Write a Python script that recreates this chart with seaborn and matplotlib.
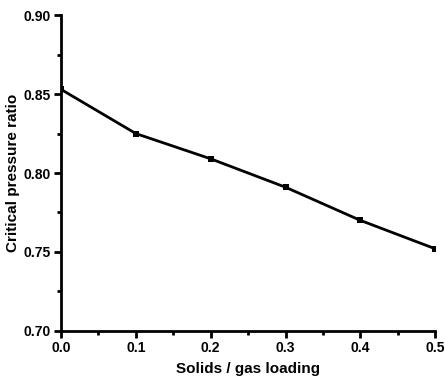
import pandas as pd
import matplotlib.pyplot as plt
import seaborn as sns
from matplotlib.ticker import MultipleLocator

# data
loading = [0.0, 0.1, 0.2, 0.3, 0.4, 0.5]
pressure_ratio = [0.853, 0.825, 0.809, 0.791, 0.770, 0.752]

df = pd.DataFrame({"loading": loading, "ratio": pressure_ratio})

sns.set_style("ticks")
plt.rcParams["font.family"] = ["Liberation Sans", "DejaVu Sans"]
plt.rcParams["text.color"] = "black"
plt.rcParams["axes.labelcolor"] = "black"
plt.rcParams["xtick.color"] = "black"
plt.rcParams["ytick.color"] = "black"

fig = plt.figure(figsize=(4.45, 3.79), dpi=100)
ax = fig.add_axes([0.137, 0.127, 0.841, 0.833])

sns.lineplot(data=df, x="loading", y="ratio", ax=ax, color="black",
             linewidth=2, marker="s", markersize=5, markeredgewidth=0)

ax.set_xlim(0.0, 0.5)
ax.set_ylim(0.70, 0.90)
ax.xaxis.set_major_locator(MultipleLocator(0.1))
ax.xaxis.set_minor_locator(MultipleLocator(0.05))
ax.yaxis.set_major_locator(MultipleLocator(0.05))
ax.yaxis.set_minor_locator(MultipleLocator(0.025))
ax.xaxis.set_major_formatter(plt.FormatStrFormatter("%.1f"))
ax.yaxis.set_major_formatter(plt.FormatStrFormatter("%.2f"))

for s in ["top", "right"]:
    ax.spines[s].set_visible(False)
for s in ["left", "bottom"]:
    ax.spines[s].set_linewidth(2)
    ax.spines[s].set_color("black")

ax.tick_params(which="major", direction="out", length=5, width=2, labelsize=10, pad=2)
ax.tick_params(which="minor", direction="out", length=3, width=2)
for lbl in ax.get_xticklabels() + ax.get_yticklabels():
    lbl.set_fontweight("bold")

ax.set_xlabel("Solids / gas loading", fontsize=11, fontweight="bold", labelpad=5)
ax.set_ylabel("Critical pressure ratio", fontsize=11, fontweight="bold", labelpad=3)

fig.savefig("out.png", dpi=100)
